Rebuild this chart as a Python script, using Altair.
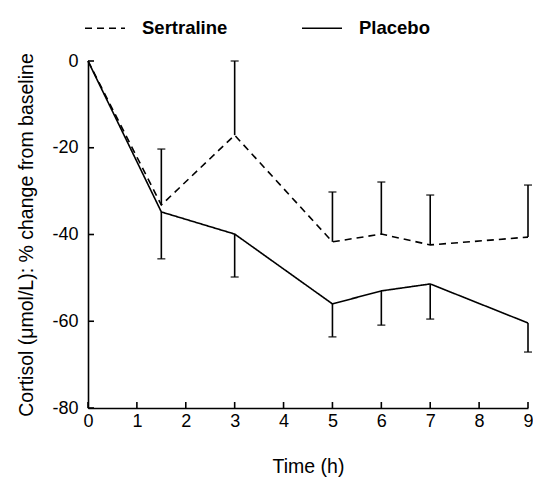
import altair as alt
import pandas as pd

times = [0, 1.5, 3, 5, 6, 7, 9]
sertraline_mean = [0, -33.2, -17.1, -41.7, -39.9, -42.4, -40.6]
sertraline_sem = [0, 12.9, 17.1, 11.5, 12.0, 11.5, 12.0]
placebo_mean = [0, -34.8, -39.9, -56.0, -53.0, -51.4, -60.4]
placebo_sem = [0, 10.8, 9.9, 7.6, 7.9, 8.1, 6.7]
groups = ["Sertraline", "Placebo"]
x_ticks = [0, 1, 2, 3, 4, 5, 6, 7, 8, 9]
y_ticks = [0, -20, -40, -60, -80]

rows = []
for t, m, s in zip(times, sertraline_mean, sertraline_sem):
    rows.append({"time": t, "value": m, "end": m + s, "group": "Sertraline", "sem": s})
for t, m, s in zip(times, placebo_mean, placebo_sem):
    rows.append({"time": t, "value": m, "end": m - s, "group": "Placebo", "sem": s})
df = pd.DataFrame(rows)
df_err = df[df["sem"] > 0]

FONT = "Liberation Sans"
W, H = 440, 347

xscale = alt.Scale(domain=[0, 9], nice=False, zero=False)
yscale = alt.Scale(domain=[-80, 0], nice=False)

common = dict(labelFont=FONT, labelFontSize=18, labelColor="black",
              titleFont=FONT, titleFontSize=19.5, titleColor="black",
              titleFontWeight="normal", grid=False, tickSize=0,
              labelFlush=False, labelExpr="datum.value + ''",
              domainColor="black", domainWidth=1.6)

x_axis = alt.Axis(values=x_ticks, labelPadding=4, title="Time (h)",
                  titleY=64, titleBaseline="alphabetic", **common)
y_axis = alt.Axis(values=y_ticks, labelPadding=10,
                  title="Cortisol (\u03bcmol/L): % change from baseline",
                  titleX=-56, titleY=H / 2, titleAngle=-90, titleAlign="center",
                  titleBaseline="alphabetic", **common)

lines = alt.Chart(df).mark_line(color="black", strokeWidth=1.6).encode(
    x=alt.X("time:Q", scale=xscale, axis=x_axis),
    y=alt.Y("value:Q", scale=yscale, axis=y_axis),
    strokeDash=alt.StrokeDash(
        "group:N",
        scale=alt.Scale(domain=groups, range=[[7, 5], [1, 0]]),
        legend=alt.Legend(title=None, orient="none", legendX=-4, legendY=-54,
                          direction="horizontal", symbolType="stroke",
                          symbolSize=1600, symbolStrokeWidth=1.6,
                          symbolStrokeColor="black", labelFont=FONT,
                          labelFontSize=18.5, labelFontWeight="bold",
                          labelColor="black", labelOffset=16,
                          columnPadding=70, padding=0),
    ),
    detail="group:N",
)

err = alt.Chart(df_err).mark_rule(color="black", strokeWidth=1.6).encode(
    x="time:Q", y="value:Q", y2="end:Q")
caps = alt.Chart(df_err).mark_tick(color="black", thickness=1.6, size=8,
                                   orient="horizontal").encode(
    x="time:Q", y="end:Q")

xt = alt.Chart(pd.DataFrame({"t": x_ticks})).mark_rule(color="black", strokeWidth=1.6).encode(
    x="t:Q", y=alt.value(H), y2=alt.value(H - 6))
yt = alt.Chart(pd.DataFrame({"t": y_ticks})).mark_rule(color="black", strokeWidth=1.6).encode(
    y="t:Q", x=alt.value(0), x2=alt.value(6))

chart = alt.layer(lines, err, caps, xt, yt).properties(
    width=W, height=H,
    background="white",
    autosize=alt.AutoSizeParams(type="none"),
    padding={"left": 88, "top": 61, "right": 5, "bottom": 69},
).configure_view(stroke=None)

chart.save("out.html", embed_options={"renderer": "svg", "actions": False})
